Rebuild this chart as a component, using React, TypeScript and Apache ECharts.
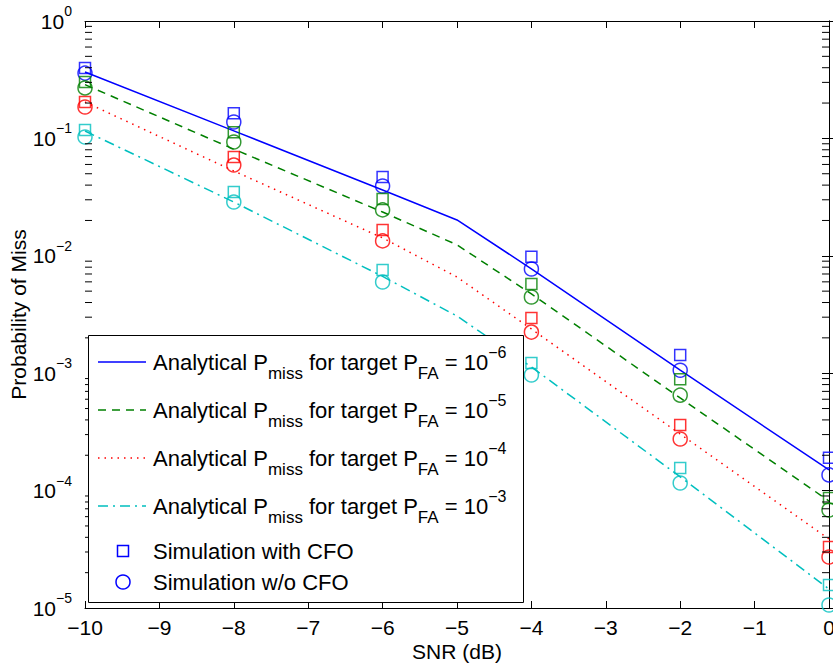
import React, { useEffect, useRef } from "react";
import * as echarts from "echarts";

const FONT = "'Liberation Sans', Arial, Helvetica, sans-serif";

// Analytical curves (SNR in dB)
const snrLine = [-10, -8, -6, -5, -4, -2, 0];
const pmissFA6 = [0.368, 0.116, 0.0363, 0.0202, 0.00775, 0.00106, 1.5e-4];
const pmissFA5 = [0.287, 0.081, 0.0236, 0.0124, 0.00473, 6.15e-4, 8.15e-5];
const pmissFA4 = [0.204, 0.0528, 0.0142, 0.00659, 0.00238, 3.03e-4, 3.87e-5];
const pmissFA3 = [0.1156, 0.0287, 0.00667, 0.00307, 0.00113, 1.31e-4, 1.45e-5];

// Simulation points
const snrSim = [-10, -8, -6, -4, -2, 0];
const simCfoFA6 = [0.398, 0.164, 0.0469, 0.0098, 0.00143, 1.9e-4];
const simNoCfoFA6 = [0.36, 0.138, 0.0393, 0.00772, 0.00106, 1.36e-4];
const simCfoFA5 = [0.302, 0.113, 0.0305, 0.00575, 8.9e-4, 8.65e-5];
const simNoCfoFA5 = [0.269, 0.0932, 0.0246, 0.00446, 6.5e-4, 6.84e-5];
const simCfoFA4 = [0.204, 0.0695, 0.0166, 0.00295, 3.62e-4, 3.31e-5];
const simNoCfoFA4 = [0.185, 0.0593, 0.0134, 0.00224, 2.75e-4, 2.72e-5];
const simCfoFA3 = [0.118, 0.0349, 0.00757, 0.00122, 1.56e-4, 1.57e-5];
const simNoCfoFA3 = [0.1028, 0.0287, 0.00598, 9.66e-4, 1.16e-4, 1.06e-5];

// Axis
const xMin = -10;
const xMax = 0;
const yMin = 1e-5;
const yMax = 1;
const decadeExps = [-5, -4, -3, -2, -1];
const minorMult = [2, 3, 4, 5, 6, 7, 8, 9];

const legendTitles = [
  "Analytical P_miss for target P_FA = 10^-6",
  "Analytical P_miss for target P_FA = 10^-5",
  "Analytical P_miss for target P_FA = 10^-4",
  "Analytical P_miss for target P_FA = 10^-3",
];
const legendExps = ["−6", "−5", "−4", "−3"];
const simLabels = ["Simulation with CFO", "Simulation w/o CFO"];

const BLUE = "#0000ff";
const GREEN = "#008000";
const RED = "#ff0000";
const CYAN = "#00bfbf";

const lineDefs = [
  { data: pmissFA6, color: BLUE, type: "solid" as any },
  { data: pmissFA5, color: GREEN, type: [8, 6] as any },
  { data: pmissFA4, color: RED, type: [1.5, 5] as any },
  { data: pmissFA3, color: CYAN, type: [10, 5, 2, 5] as any },
];
const simDefs = [
  { cfo: simCfoFA6, nocfo: simNoCfoFA6, color: BLUE },
  { cfo: simCfoFA5, nocfo: simNoCfoFA5, color: GREEN },
  { cfo: simCfoFA4, nocfo: simNoCfoFA4, color: RED },
  { cfo: simCfoFA3, nocfo: simNoCfoFA3, color: CYAN },
];

export default function App() {
  const ref = useRef<HTMLDivElement>(null);
  useEffect(() => {
    if (!ref.current) return;
    const chart = echarts.init(ref.current, undefined, { renderer: "svg" });

    const minorTicks: number[] = [];
    decadeExps.forEach((e) => minorMult.forEach((m) => minorTicks.push(m * Math.pow(10, e))));

    const yLabelFmt = (v: number) => {
      const e = Math.round(Math.log10(v));
      return "{b|10}{s|" + (e < 0 ? "−" + Math.abs(e) : String(e)) + "}";
    };
    const yRich = {
      b: { fontSize: 21, fontFamily: FONT, color: "#000", verticalAlign: "middle" },
      s: { fontSize: 14, fontFamily: FONT, color: "#000", verticalAlign: "middle", padding: [0, 0, 20, 0] },
    };

    const series: any[] = [];
    lineDefs.forEach((d, i) => {
      series.push({
        type: "line",
        name: legendTitles[i],
        data: snrLine.map((x, k) => [x, d.data[k]]),
        symbol: "none",
        lineStyle: { color: d.color, width: 1.5, type: d.type },
        itemStyle: { color: d.color },
        z: 2,
      });
    });
    simDefs.forEach((d, i) => {
      series.push({
        type: "scatter",
        name: i === 0 ? simLabels[0] : simLabels[0] + " " + i,
        data: snrSim.map((x, k) => [x, d.cfo[k]]),
        symbol: "rect",
        symbolSize: 11,
        itemStyle: { color: "rgba(0,0,0,0)", borderColor: d.color, borderWidth: 1.5 },
        z: 3,
      });
      series.push({
        type: "scatter",
        name: i === 0 ? simLabels[1] : simLabels[1] + " " + i,
        data: snrSim.map((x, k) => [x, d.nocfo[k]]),
        symbol: "circle",
        symbolSize: 14,
        itemStyle: { color: "rgba(0,0,0,0)", borderColor: d.color, borderWidth: 1.5 },
        z: 3,
      });
    });
    series.push({
      type: "custom",
      name: "minorTicks",
      data: minorTicks.map((v) => [xMin, v]),
      renderItem: (params: any, api: any) => {
        const v = api.value(1);
        const p0 = api.coord([xMin, v]);
        const p1 = api.coord([xMax, v]);
        return {
          type: "group",
          children: [
            { type: "line", shape: { x1: p0[0], y1: p0[1], x2: p0[0] + 7, y2: p0[1] }, style: { stroke: "#000", lineWidth: 1 } },
            { type: "line", shape: { x1: p1[0] - 7, y1: p1[1], x2: p1[0], y2: p1[1] }, style: { stroke: "#000", lineWidth: 1 } },
          ],
        };
      },
      clip: false,
      silent: true,
      z: 4,
    });

    const legRich = {
      m: { fontSize: 22, fontFamily: FONT, fill: "#000", verticalAlign: "middle" },
      sub: { fontSize: 17, fontFamily: FONT, fill: "#000", verticalAlign: "middle", padding: [22, 0, 0, 0] },
      sup: { fontSize: 16, fontFamily: FONT, fill: "#000", verticalAlign: "middle", padding: [0, 0, 20, 0] },
    };
    const rowY = [362, 410, 458, 506];
    const graphics: any[] = [
      {
        type: "rect",
        shape: { x: 88.5, y: 335.5, width: 435, height: 267 },
        style: { fill: "#fff", stroke: "#000", lineWidth: 1 },
        z: 100,
      },
    ];
    lineDefs.forEach((d, i) => {
      graphics.push({
        type: "line",
        shape: { x1: 98, y1: rowY[i], x2: 146, y2: rowY[i] },
        style: {
          stroke: d.color,
          lineWidth: 1.5,
          lineDash: Array.isArray(d.type) ? d.type : null,
        },
        z: 101,
      });
      graphics.push({
        type: "text",
        x: 153,
        y: rowY[i],
        style: {
          text: "{m|Analytical P}{sub|miss}{m| for target P}{sub|FA}{m| = 10}{sup|" + legendExps[i] + "}",
          rich: legRich,
          verticalAlign: "middle",
          align: "left",
          fill: "#000",
          fontSize: 22,
          fontFamily: FONT,
        },
        z: 101,
      });
    });
    graphics.push({
      type: "rect",
      shape: { x: 117.5, y: 545.5, width: 11, height: 11 },
      style: { fill: "none", stroke: BLUE, lineWidth: 1.5 },
      z: 101,
    });
    graphics.push({
      type: "circle",
      shape: { cx: 123, cy: 582, r: 7 },
      style: { fill: "none", stroke: BLUE, lineWidth: 1.5 },
      z: 101,
    });
    [551, 582].forEach((y, i) => {
      graphics.push({
        type: "text",
        x: 153,
        y,
        style: { text: simLabels[i], fill: "#000", fontSize: 22, fontFamily: FONT, verticalAlign: "middle", align: "left" },
        z: 101,
      });
    });

    const xLabelFmt = (v: number) => (v < 0 ? "−" + Math.abs(v) : String(v));
    const axisLineStyle = { show: true, lineStyle: { color: "#000", width: 1 } };
    const tick = { show: true, inside: true, length: 7, lineStyle: { color: "#000", width: 1 } };

    chart.setOption({
      animation: false,
      backgroundColor: "#fff",
      grid: { left: 85, right: 4, top: 21, bottom: 61, containLabel: false, outerBoundsMode: "none" },
      xAxis: [
        {
          type: "value",
          min: xMin,
          max: xMax,
          interval: 1,
          position: "bottom",
          axisLine: axisLineStyle,
          axisTick: tick,
          splitLine: { show: false },
          axisLabel: {
            formatter: xLabelFmt,
            fontSize: 21,
            fontFamily: FONT,
            color: "#000",
            margin: 9,
            showMinLabel: true,
            showMaxLabel: true,
            hideOverlap: false,
          },
          name: "SNR (dB)",
          nameLocation: "middle",
          nameGap: 33,
          nameMoveOverlap: false,
          nameTextStyle: { fontSize: 21, fontFamily: FONT, color: "#000" },
        },
        {
          type: "value",
          min: xMin,
          max: xMax,
          interval: 1,
          position: "top",
          axisLine: axisLineStyle,
          axisTick: tick,
          splitLine: { show: false },
          axisLabel: { show: false },
        },
      ],
      yAxis: [
        {
          type: "log",
          logBase: 10,
          min: yMin,
          max: yMax,
          position: "left",
          axisLine: axisLineStyle,
          axisTick: tick,
          splitLine: { show: false },
          minorTick: { show: false },
          axisLabel: { formatter: yLabelFmt, rich: yRich, margin: 13, color: "#000" },
          name: "Probability of Miss",
          nameLocation: "middle",
          nameGap: 56,
          nameMoveOverlap: false,
          nameRotate: 90,
          nameTextStyle: { fontSize: 21, fontFamily: FONT, color: "#000" },
        },
        {
          type: "log",
          logBase: 10,
          min: yMin,
          max: yMax,
          position: "right",
          axisLine: axisLineStyle,
          axisTick: tick,
          splitLine: { show: false },
          axisLabel: { show: false },
        },
      ],
      series,
      graphic: graphics,
    });
    return () => chart.dispose();
  }, []);
  return (
    <div
      ref={ref}
      style={{ position: "absolute", left: 0, top: 0, width: 833, height: 669, background: "#fff" }}
    />
  );
}
